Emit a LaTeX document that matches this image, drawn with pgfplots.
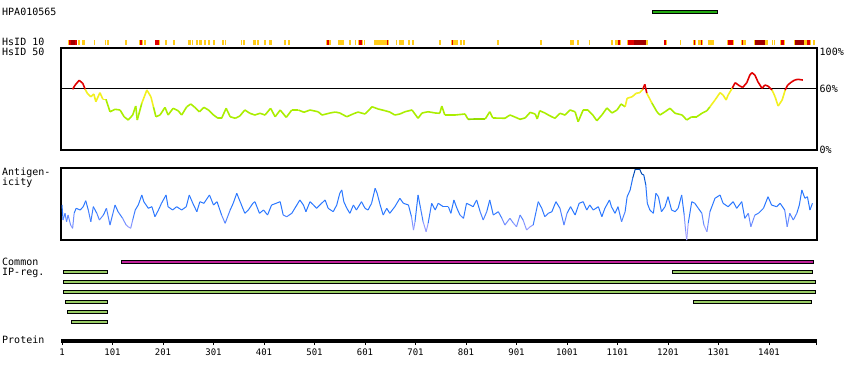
\documentclass[border=0pt]{standalone}
\usepackage{pgfplots}
\pgfplotsset{compat=1.18}
\usepackage{fontspec}
\setmainfont{DejaVu Sans Mono}
\definecolor{stY}{HTML}{FFCC1A}
\definecolor{stR}{HTML}{E00000}
\definecolor{stD}{HTML}{A00000}
\definecolor{hsdk}{HTML}{66BB00}
\definecolor{hsgr}{HTML}{AAEE00}
\definecolor{hsye}{HTML}{F2F020}
\definecolor{hsrd}{HTML}{E00000}
\definecolor{agl}{HTML}{9F9FFF}
\definecolor{agm}{HTML}{6B8CFF}
\definecolor{agb}{HTML}{2A77FF}
\definecolor{agd}{HTML}{0055CC}
\definecolor{agdd}{HTML}{003F99}
\definecolor{hpag}{HTML}{22AA11}
\definecolor{ipmag}{HTML}{C0209A}
\definecolor{ipgr}{HTML}{99CC66}
\pgfplotsset{
  colormap={hsid}{color(0pt)=(hsdk) color(29pt)=(hsdk) color(31pt)=(hsgr) color(44pt)=(hsgr) color(45.5pt)=(hsye) color(58.5pt)=(hsye) color(59.5pt)=(hsrd) color(100pt)=(hsrd)},
  colormap={antig}{color(0pt)=(agl) color(11pt)=(agl) color(20pt)=(agm) color(28pt)=(agb) color(54pt)=(agb) color(62pt)=(agd) color(72pt)=(agdd)},
  pxaxis/.style={scale only axis, width=756pt, xmin=-1, xmax=1496, clip=false},
}
\begin{document}
\begin{tikzpicture}
\path[use as bounding box] (0,0) rectangle (850pt,380pt);
\tikzset{lab/.style={anchor=base west, inner sep=0pt, font=\fontsize{10}{12}\selectfont}}
\node[lab] at (2pt,364pt) {HPA010565};
\node[lab] at (2pt,334.3pt) {HsID 10};
\node[lab] at (2pt,324.3pt) {HsID 50};
\node[lab] at (2pt,204pt) {Antigen-};
\node[lab] at (2pt,194pt) {icity};
\node[lab] at (2pt,114pt) {Common};
\node[lab] at (2pt,104pt) {IP-reg.};
\node[lab] at (2pt,37pt) {Protein};

% top: antibody bar and HsID 10 strip
\begin{axis}[pxaxis, at={(61pt,380pt)}, anchor=north west, height=48pt,
  ymin=-48, ymax=0, axis lines=none, unbounded coords=jump]
\addplot[fill=hpag, draw=black, line width=1pt] coordinates {(1171,-10.8) (1299,-10.8) (1299,-13.8) (1171,-13.8)} -- cycle;
\addplot[stY, line width=5pt] coordinates {
(13,-42.5)(15,-42.5)(15,nan)(33,-42.5)(37,-42.5)(37,nan)(41,-42.5)(47,-42.5)(47,nan)(64,-42.5)(66,-42.5)(66,nan)
(86,-42.5)(88,-42.5)(88,nan)(90,-42.5)(94,-42.5)(94,nan)(126,-42.5)(130,-42.5)(130,nan)(153,-42.5)(155,-42.5)(155,nan)
(159,-42.5)(161,-42.5)(161,nan)(163,-42.5)(167,-42.5)(167,nan)(193,-42.5)(195,-42.5)(195,nan)(205,-42.5)(209,-42.5)(209,nan)
(221,-42.5)(225,-42.5)(225,nan)(250,-42.5)(256,-42.5)(256,nan)(258,-42.5)(260,-42.5)(260,nan)(266,-42.5)(270,-42.5)(270,nan)
(272,-42.5)(278,-42.5)(278,nan)(282,-42.5)(286,-42.5)(286,nan)(290,-42.5)(294,-42.5)(294,nan)(300,-42.5)(304,-42.5)(304,nan)
(318,-42.5)(322,-42.5)(322,nan)(324,-42.5)(326,-42.5)(326,nan)(355,-42.5)(357,-42.5)(357,nan)(359,-42.5)(363,-42.5)(363,nan)
(379,-42.5)(385,-42.5)(385,nan)(387,-42.5)(391,-42.5)(391,nan)(401,-42.5)(405,-42.5)(405,nan)(411,-42.5)(417,-42.5)(417,nan)
(441,-42.5)(445,-42.5)(445,nan)(449,-42.5)(452,-42.5)(452,nan)(524,-42.5)(526,-42.5)(526,nan)(530,-42.5)(534,-42.5)(534,nan)
(548,-42.5)(559,-42.5)(559,nan)(569,-42.5)(573,-42.5)(573,nan)(581,-42.5)(583,-42.5)(583,nan)(587,-42.5)(589,-42.5)(589,nan)
(595,-42.5)(597,-42.5)(597,nan)(599,-42.5)(601,-42.5)(601,nan)(619,-42.5)(645,-42.5)(645,nan)(646,-42.5)(648,-42.5)(648,nan)
(662,-42.5)(664,-42.5)(664,nan)(668,-42.5)(678,-42.5)(678,nan)(686,-42.5)(690,-42.5)(690,nan)(694,-42.5)(698,-42.5)(698,nan)
(748,-42.5)(751,-42.5)(751,nan)(771,-42.5)(773,-42.5)(773,nan)(775,-42.5)(785,-42.5)(785,nan)(789,-42.5)(793,-42.5)(793,nan)
(795,-42.5)(799,-42.5)(799,nan)(862,-42.5)(866,-42.5)(866,nan)(947,-42.5)(951,-42.5)(951,nan)(1007,-42.5)(1015,-42.5)(1015,nan)
(1021,-42.5)(1025,-42.5)(1025,nan)(1044,-42.5)(1046,-42.5)(1046,nan)(1088,-42.5)(1092,-42.5)(1092,nan)(1096,-42.5)(1102,-42.5)(1102,nan)
(1106,-42.5)(1108,-42.5)(1108,nan)(1120,-42.5)(1122,-42.5)(1122,nan)(1157,-42.5)(1161,-42.5)(1161,nan)(1197,-42.5)(1199,-42.5)(1199,nan)
(1225,-42.5)(1227,-42.5)(1227,nan)(1250,-42.5)(1252,-42.5)(1252,nan)(1254,-42.5)(1256,-42.5)(1256,nan)(1260,-42.5)(1266,-42.5)(1266,nan)
(1268,-42.5)(1270,-42.5)(1270,nan)(1280,-42.5)(1292,-42.5)(1292,nan)(1318,-42.5)(1320,-42.5)(1320,nan)(1330,-42.5)(1332,-42.5)(1332,nan)
(1345,-42.5)(1347,-42.5)(1347,nan)(1349,-42.5)(1355,-42.5)(1355,nan)(1371,-42.5)(1373,-42.5)(1373,nan)(1393,-42.5)(1399,-42.5)(1399,nan)
(1407,-42.5)(1409,-42.5)(1409,nan)(1411,-42.5)(1413,-42.5)(1413,nan)(1423,-42.5)(1425,-42.5)(1425,nan)(1431,-42.5)(1433,-42.5)(1433,nan)
(1450,-42.5)(1452,-42.5)(1452,nan)(1470,-42.5)(1476,-42.5)(1476,nan)(1482,-42.5)(1484,-42.5)(1484,nan)(1488,-42.5)(1492,-42.5)};
\addplot[stR, line width=5pt] coordinates {
(15,-42.5)(19,-42.5)(19,nan)(27,-42.5)(31,-42.5)(31,nan)(155,-42.5)(159,-42.5)(159,nan)(185,-42.5)(193,-42.5)(193,nan)
(526,-42.5)(530,-42.5)(530,nan)(589,-42.5)(595,-42.5)(595,nan)(645,-42.5)(646,-42.5)(646,nan)(773,-42.5)(775,-42.5)(775,nan)
(1102,-42.5)(1106,-42.5)(1106,nan)(1122,-42.5)(1134,-42.5)(1134,nan)(1193,-42.5)(1197,-42.5)(1197,nan)(1252,-42.5)(1254,-42.5)(1254,nan)
(1266,-42.5)(1268,-42.5)(1268,nan)(1320,-42.5)(1330,-42.5)(1330,nan)(1347,-42.5)(1349,-42.5)(1349,nan)(1425,-42.5)(1431,-42.5)(1431,nan)
(1476,-42.5)(1482,-42.5)};
\addplot[stD, line width=5pt] coordinates {
(19,-42.5)(27,-42.5)(27,nan)(1134,-42.5)(1157,-42.5)(1157,nan)(1373,-42.5)(1393,-42.5)(1393,nan)(1452,-42.5)(1470,-42.5)};
\end{axis}

% HsID 50 panel
\begin{axis}[pxaxis, at={(61pt,332pt)}, anchor=north west, height=102pt,
  ymin=0, ymax=100, axis line style={line width=1.1pt}, xtick=\empty,
  ytick={0,60}, yticklabels={0\%,60\%}, extra y ticks={100}, extra y tick labels={100\%},
  extra y tick style={yticklabel style={yshift=-4pt}},
  yticklabel pos=right, major tick length=0pt,
  yticklabel style={anchor=west, inner sep=0pt, xshift=2.5pt, font=\fontsize{10}{12}\selectfont},
  point meta min=0, point meta max=100]
\addplot[black, line width=1pt] coordinates {(-1,60) (1496,60)};
\addplot[mesh, colormap name=hsid, point meta=y, line width=1.6pt, line join=round] coordinates {
(22,59.5)(27,63.7)(35,68.3)(42,65.4)(47,59.5)(51,55.6)(58,52.2)(64,54.9)(68,47.3)(76,56.2)(82,49.7)(88,49.7)(96,37.5)
(106,39.9)(116,39.2)(124,32.6)(132,29.4)(141,34.3)(147,43.1)(150,29.4)(159,45.8)(169,58.8)(177,52.2)(182,42.4)(187,32.6)
(195,34.3)(205,41.8)(211,34.3)(221,40.9)(231,38.5)(238,34.3)(248,42.4)(256,45.1)(264,41.8)(273,37.5)(282,41.8)(291,39.2)
(301,34.3)(310,31.1)(317,31.1)(326,40.9)(334,32.6)(344,31.1)(353,33.3)(363,39.2)(373,36)(383,34.3)(393,36)(403,34.3)
(414,40.9)(423,32.6)(433,39.2)(445,32)(456,39.2)(469,39.2)(480,37)(492,39.2)(508,37.5)(516,34.3)(532,36.3)(542,37.2)
(551,36.3)(565,32.6)(577,35.3)(587,37.2)(601,35.3)(615,42.4)(627,40.2)(641,38.5)(650,37.2)(660,34.3)(670,35.3)(680,37.5)
(694,39.2)(706,31.1)(714,36.3)(726,37.5)(740,36.3)(749,36)(753,43.1)(759,34.3)(779,34.3)(799,35.3)(805,30.1)(819,30.4)
(839,30.4)(848,37.5)(854,31.4)(878,31.1)(888,34.3)(898,32.3)(908,30.1)(918,31.4)(928,36.9)(938,35.3)(942,30.4)(947,38.5)
(957,36.3)(967,33.5)(977,31.1)(987,36)(997,34.3)(1007,39.2)(1017,37.5)(1023,27.7)(1033,39.2)(1042,39.2)(1052,34.3)
(1060,28.7)(1070,34.3)(1080,41.2)(1090,36.3)(1100,39.2)(1108,45.1)(1116,42.4)(1120,50.7)(1130,52.2)(1138,55.6)(1145,56.2)
(1151,59.5)(1155,64.4)(1159,55.6)(1169,46.1)(1179,37.5)(1185,34.3)(1195,37.5)(1205,40.9)(1215,36)(1229,34.3)(1238,29.4)
(1248,32.6)(1258,32.6)(1268,36)(1278,38.5)(1284,42.4)(1294,49)(1304,56.2)(1310,53.9)(1316,49)(1320,53.9)(1328,60.5)
(1334,66)(1343,62.7)(1349,61.4)(1357,66)(1363,73.5)(1367,75.8)(1373,73.5)(1379,66.9)(1387,60.5)(1393,63.7)(1399,62.7)
(1407,58.8)(1413,52.2)(1419,43.1)(1427,49)(1433,58.8)(1438,63.7)(1446,66.9)(1452,68.6)(1458,69.3)(1468,68.6)};
\end{axis}

% Antigenicity panel
\begin{axis}[pxaxis, at={(61pt,212pt)}, anchor=north west, height=72pt,
  ymin=0, ymax=72, axis line style={line width=1.1pt}, xtick=\empty, ytick=\empty,
  point meta min=0, point meta max=72]
\addplot[mesh, colormap name=antig, point meta=y, line width=1pt, line join=round] coordinates {
(1,35)(3,20)(4,21.7)(7,26.7)(10,18.3)(13,25)(18,15)(22,11.7)(25,26.7)(29,31.7)(37,30)(43,33.3)(48,39.3)(53,30)(58,18.3)
(63,33.3)(70,26.7)(75,20)(83,25)(89,31.7)(96,15)(106,35)(112,28.3)(121,21.7)(128,15)(132,13.3)(137,11.7)(141,20)(146,30)
(152,35)(159,45)(163,38.3)(172,31.7)(179,33.3)(185,23.3)(192,30)(198,36.7)(207,45)(211,33.3)(220,30)(228,33.3)(238,30)
(247,33.3)(253,45)(260,36.7)(268,28.3)(274,38.3)(282,36.7)(293,45)(301,35)(308,38.3)(317,25)(324,16.7)(334,30)(340,36.7)
(347,46.7)(355,36.7)(363,26.7)(370,30)(379,36.7)(383,38.3)(392,26.7)(400,30)(408,25)(416,35)(425,36.7)(433,38.3)(439,25)
(446,23.3)(456,26.7)(466,35)(472,40)(479,35)(484,28.3)(492,38.3)(499,35)(505,31.7)(515,36.7)(522,40)(528,31.7)(538,28.3)
(545,35)(551,46.7)(555,50)(559,38.3)(565,31.7)(571,26.7)(578,35)(584,30)(594,38.3)(601,31.7)(607,30)(614,36.7)(621,51.7)
(625,46.7)(631,35)(637,25)(644,31.7)(650,26.7)(660,33.3)(670,41.7)(677,36.7)(687,35)(693,23.3)(697,10)(700,18.3)(706,45)
(711,31.7)(716,18.3)(722,8.3)(726,16.7)(733,36.7)(740,30)(746,36.7)(756,33.3)(766,33.3)(771,26.7)(777,40)(783,31.7)
(789,25)(796,21.7)(802,36.7)(809,35)(815,33.3)(822,40)(829,28.3)(835,20)(842,28.3)(848,40)(855,25)(865,28.3)(872,21.7)
(878,15)(888,21.7)(895,16.7)(901,13.3)(908,25)(914,20)(921,10)(928,13.3)(934,15)(944,38.3)(951,31.7)(957,23.3)(964,26.7)
(971,28.3)(979,38.3)(987,31.7)(995,15)(1001,26.7)(1008,33.3)(1017,25)(1025,36.7)(1033,38.3)(1040,30)(1046,35)(1053,30)
(1063,33.3)(1070,23.3)(1076,31.7)(1085,40)(1089,33.3)(1096,26.7)(1102,33.3)(1109,18.3)(1116,28.3)(1120,43.3)(1126,50)
(1131,61.7)(1136,70.7)(1145,70.7)(1149,66)(1153,65)(1157,55)(1160,36.7)(1165,30)(1172,26.7)(1177,46.7)(1182,43.3)
(1188,28.3)(1195,33.3)(1201,43.3)(1208,30)(1215,28.3)(1221,31.7)(1228,45)(1233,25)(1236,8.3)(1238,0)(1241,16.7)(1248,38.3)
(1254,36.7)(1261,31.7)(1268,26.7)(1272,15)(1278,8.3)(1284,28.3)(1294,41.7)(1304,45)(1310,36.7)(1320,33.3)(1330,38.3)
(1337,31.7)(1347,38.3)(1353,21.7)(1360,26.7)(1365,13.3)(1373,25)(1380,26.7)(1390,31.7)(1399,43.3)(1406,35)(1416,33.3)
(1423,36.7)(1432,30)(1437,13.3)(1442,26.7)(1449,20)(1456,26.7)(1461,35)(1466,50)(1472,41.7)(1477,43.3)(1482,30)(1487,36.7)};
\end{axis}

% Common IP regions and protein axis
\begin{axis}[pxaxis, at={(61pt,39.5pt)}, anchor=south west, height=90.5pt,
  ymin=-340.5, ymax=-250, hide y axis, axis x line*=bottom,
  x axis line style={-, line width=4pt},
  xtick={1,101,201,301,401,501,601,701,801,901,1001,1101,1201,1301,1401},
  xticklabels={1,101,201,301,401,501,601,701,801,901,1001,1101,1201,1301,1401},
  extra x ticks={1495}, extra x tick labels={},
  tick align=outside, major tick length=4.5pt, xtick style={black, line width=1pt},
  xticklabel style={font=\fontsize{9}{10}\selectfont}]
\addplot[fill=ipmag, draw=black, line width=1pt] coordinates {(119,-260.3) (1490,-260.3) (1490,-263.7) (119,-263.7)} -- cycle;
\addplot[fill=ipgr, draw=black, line width=1pt] coordinates {(4.5,-270.3) (91.7,-270.3) (91.7,-273.7) (4.5,-273.7)} -- cycle;
\addplot[fill=ipgr, draw=black, line width=1pt] coordinates {(1210,-270.3) (1488,-270.3) (1488,-273.7) (1210,-273.7)} -- cycle;
\addplot[fill=ipgr, draw=black, line width=1pt] coordinates {(4.5,-280.3) (1493.5,-280.3) (1493.5,-283.7) (4.5,-283.7)} -- cycle;
\addplot[fill=ipgr, draw=black, line width=1pt] coordinates {(4.5,-290.3) (1493.5,-290.3) (1493.5,-293.7) (4.5,-293.7)} -- cycle;
\addplot[fill=ipgr, draw=black, line width=1pt] coordinates {(8.5,-300.3) (90.5,-300.3) (90.5,-303.7) (8.5,-303.7)} -- cycle;
\addplot[fill=ipgr, draw=black, line width=1pt] coordinates {(1252,-300.3) (1486,-300.3) (1486,-303.7) (1252,-303.7)} -- cycle;
\addplot[fill=ipgr, draw=black, line width=1pt] coordinates {(11.3,-310.3) (90.5,-310.3) (90.5,-313.7) (11.3,-313.7)} -- cycle;
\addplot[fill=ipgr, draw=black, line width=1pt] coordinates {(19.2,-320.3) (90.5,-320.3) (90.5,-323.7) (19.2,-323.7)} -- cycle;
\end{axis}
\end{tikzpicture}
\end{document}
